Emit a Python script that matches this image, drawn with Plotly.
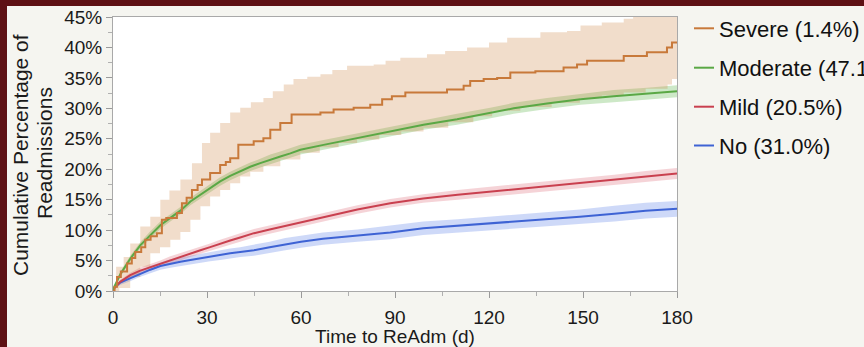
import plotly.graph_objects as go

# ---------------- data ----------------
x_ticks = [0, 30, 60, 90, 120, 150, 180]
y_ticks = [0, 5, 10, 15, 20, 25, 30, 35, 40, 45]

legend_labels = ["Severe (1.4%)", "Moderate (47.1%)", "Mild (20.5%)", "No (31.0%)"]
y_title_lines = ["Cumulative Percentage of", "Readmissions"]
x_title = "Time to ReAdm (d)"

sev_days = [0, 0.5, 1.3, 2.5, 4.5, 6, 7.1, 9, 10.3, 12, 14, 15.6, 17, 20.4, 22, 23.5, 25.2, 27, 28.4, 31,
            34.2, 36, 37.4, 40, 44.9, 48, 50.2, 53.4, 57, 66.2, 70.4, 76.8, 82.1, 85.9, 89, 93.3, 106.6,
            111.9, 114, 118.3, 122.6, 126.8, 134.8, 143.8, 148.1, 151.3, 163, 170.4, 176.8, 178.4, 180]
sev_vals = [0, 0.7, 2.3, 3.2, 4.5, 5.4, 6.4, 7.2, 8.4, 9.0, 9.5, 11.7, 12.0, 12.8, 14.4, 15.3, 16.6, 17.4,
            18.3, 19.4, 20.7, 21.2, 21.8, 24.0, 24.6, 25.1, 26.5, 27.6, 29.0, 29.3, 29.8, 30.1, 30.6, 31.5,
            32.0, 32.6, 33.1, 33.7, 34.5, 34.8, 35.0, 35.9, 36.1, 36.7, 37.2, 37.8, 38.6, 39.2, 40.0, 40.8, 40.8]

sev_up_days = [0, 1, 3.4, 5.5, 8.7, 11.9, 15.1, 18, 21.5, 25.2, 28.4, 31, 34.2, 37.4, 40.6, 44, 48, 51, 54.5,
               57.6, 62, 66.2, 70, 74.7, 83.2, 87, 91.7, 100.2, 106, 113, 120, 125.8, 136.4, 144.9, 149.2,
               156, 163, 166, 180]
sev_upper = [0.5, 4.0, 5.6, 7.8, 10.6, 12.2, 15.0, 16.5, 18.3, 21.0, 24.3, 26.0, 27.6, 29.3, 30.1, 31.0, 31.7,
             32.8, 33.9, 34.8, 35.2, 35.6, 36.3, 37.0, 37.2, 37.8, 38.3, 38.9, 39.4, 40.0, 40.8, 41.6, 42.5,
             42.7, 43.6, 44.1, 44.7, 45.3, 45.8]

sev_lo_days = [0, 2, 5.5, 8.7, 11.9, 15, 18.3, 21.5, 24.7, 27.9, 31, 34.2, 37.4, 40.6, 43.8, 48, 53.4, 59.8,
               66, 72, 77.9, 85, 92, 99.1, 107, 115, 121, 130, 140, 149, 156, 163, 170, 177, 178.4, 180]
sev_lower = [0, 0.5, 2.3, 4.0, 6.2, 7.2, 8.4, 9.7, 11.7, 13.9, 15.5, 16.6, 17.7, 18.8, 19.6, 20.5, 21.6, 22.7,
             23.6, 24.3, 24.9, 25.6, 26.2, 26.8, 27.7, 28.7, 29.6, 30.2, 30.9, 31.7, 32.1, 32.6, 33.2, 33.9,
             34.8, 34.8]

mod_days = [0, 0.4, 2.3, 5.5, 8.7, 11.9, 15.1, 18.3, 21.5, 24.7, 27.9, 31, 34.2, 37.4, 40.6, 43.8, 47, 50.2,
            53.4, 56.6, 59.8, 67.2, 77.9, 88.5, 99.1, 109.8, 120.4, 127.9, 138.5, 149.2, 159.8, 170.4, 180]
mod_vals = [0, 0.7, 2.7, 5.3, 7.5, 9.2, 10.8, 12.0, 13.2, 14.7, 15.8, 16.9, 18.0, 18.9, 19.7, 20.4, 21.0, 21.6,
            22.1, 22.6, 23.2, 24.0, 25.1, 26.2, 27.3, 28.2, 29.2, 30.0, 30.8, 31.5, 32.0, 32.4, 32.8]
mod_lower = [0, 0.5, 2.3, 4.8, 7.0, 8.6, 10.2, 11.4, 12.6, 14.1, 15.2, 16.2, 17.3, 18.2, 19.0, 19.7, 20.3, 20.8,
             21.3, 21.8, 22.4, 23.2, 24.3, 25.4, 26.5, 27.3, 28.3, 29.1, 29.9, 30.6, 31.0, 31.4, 31.8]
mod_upper = [0, 0.9, 3.1, 5.8, 8.0, 9.8, 11.4, 12.6, 13.8, 15.3, 16.4, 17.6, 18.7, 19.6, 20.4, 21.1, 21.7, 22.4,
             22.9, 23.4, 24.0, 24.8, 25.9, 27.0, 28.1, 29.1, 30.1, 30.9, 31.7, 32.4, 33.0, 33.4, 33.8]

mn_days = [0, 0.4, 2.3, 5.5, 8.5, 11.9, 15.1, 18.3, 21.5, 24.7, 27.9, 31, 34.2, 37.4, 40.6, 45, 50, 55, 60, 67,
           78, 88.5, 99, 110, 120, 128, 138.5, 149, 160, 170, 180]
mild_vals = [0, 0.5, 1.5, 2.6, 3.3, 3.9, 4.5, 5.1, 5.6, 6.2, 6.7, 7.2, 7.8, 8.3, 8.8, 9.5, 10.1, 10.7, 11.3, 12.2,
             13.4, 14.4, 15.2, 15.8, 16.3, 16.7, 17.2, 17.7, 18.3, 18.8, 19.3]
mild_lower = [0, 0.3, 1.2, 2.2, 2.8, 3.4, 4.0, 4.5, 5.0, 5.6, 6.1, 6.6, 7.2, 7.6, 8.1, 8.8, 9.4, 10.0, 10.6, 11.5,
              12.7, 13.7, 14.5, 15.0, 15.5, 15.9, 16.4, 16.9, 17.5, 17.9, 18.4]
mild_upper = [0, 0.7, 1.8, 3.0, 3.8, 4.4, 5.0, 5.7, 6.2, 6.8, 7.3, 7.8, 8.4, 9.0, 9.5, 10.2, 10.8, 11.4, 12.0, 12.9,
              14.1, 15.1, 15.9, 16.6, 17.1, 17.5, 18.0, 18.5, 19.1, 19.7, 20.2]

no_vals = [0, 0.5, 1.4, 2.1, 2.8, 3.5, 4.1, 4.5, 4.8, 5.1, 5.4, 5.7, 5.9, 6.2, 6.4, 6.7, 7.2, 7.7, 8.1, 8.6,
           9.1, 9.6, 10.3, 10.7, 11.1, 11.4, 11.8, 12.2, 12.7, 13.2, 13.5]
no_lower = [0, 0.3, 1.0, 1.6, 2.3, 2.9, 3.5, 3.8, 4.1, 4.4, 4.7, 4.9, 5.1, 5.4, 5.6, 5.8, 6.3, 6.7, 7.1, 7.6,
            8.1, 8.5, 9.2, 9.6, 10.0, 10.2, 10.6, 11.0, 11.4, 11.9, 12.2]
no_upper = [0, 0.7, 1.8, 2.6, 3.3, 4.1, 4.7, 5.2, 5.5, 5.8, 6.1, 6.5, 6.7, 7.0, 7.2, 7.6, 8.1, 8.7, 9.1, 9.6,
            10.1, 10.7, 11.4, 11.8, 12.2, 12.6, 13.0, 13.4, 14.0, 14.5, 14.8]

# ---------------- styling ----------------
FONT = "Liberation Sans, Arial, Helvetica, sans-serif"
C_SEV, F_SEV = "#c8793a", "rgba(204,128,64,0.27)"
C_MOD, F_MOD = "#5aa845", "rgba(100,185,80,0.32)"
C_MILD, F_MILD = "#c9404f", "rgba(215,85,100,0.26)"
C_NO, F_NO = "#3e63d4", "rgba(80,120,230,0.28)"
TXT = "#1a1a1a"

W, H = 864, 347
ML, MR, MT, MB = 113, 187, 17, 56
PW, PH = W - ML - MR, H - MT - MB


def px_x(px):
    return (px - ML) / PW


def px_y(py):
    return (H - MB - py) / PH


fig = go.Figure()


def band(xl, lo, xu, up, fill, shape):
    fig.add_trace(go.Scatter(x=xl, y=lo, mode="lines", line=dict(width=0, shape=shape),
                             showlegend=False, hoverinfo="skip"))
    fig.add_trace(go.Scatter(x=xu, y=up, mode="lines", line=dict(width=0, shape=shape),
                             fill="tonexty", fillcolor=fill, showlegend=False, hoverinfo="skip"))


band(mn_days, no_lower, mn_days, no_upper, F_NO, "linear")
band(mn_days, mild_lower, mn_days, mild_upper, F_MILD, "linear")
band(mod_days, mod_lower, mod_days, mod_upper, F_MOD, "linear")
band(sev_lo_days, sev_lower, sev_up_days, sev_upper, F_SEV, "hv")

series = [
    (mn_days, no_vals, C_NO, "linear", legend_labels[3]),
    (mn_days, mild_vals, C_MILD, "linear", legend_labels[2]),
    (mod_days, mod_vals, C_MOD, "linear", legend_labels[1]),
    (sev_days, sev_vals, C_SEV, "hv", legend_labels[0]),
]
for xs, ys, col, shp, name in series:
    fig.add_trace(go.Scatter(x=xs, y=ys, mode="lines", name=name,
                             line=dict(color=col, width=2, shape=shp), showlegend=False))

# manual legend (short line samples like the reference)
leg_colors = [C_SEV, C_MOD, C_MILD, C_NO]
leg_py = [28.3, 67.7, 106.7, 145.5]
shapes = []
annotations = []
for lab, col, py in zip(legend_labels, leg_colors, leg_py):
    shapes.append(dict(type="line", xref="paper", yref="paper", x0=px_x(694), x1=px_x(714),
                       y0=px_y(py), y1=px_y(py), line=dict(color=col, width=2)))
    annotations.append(dict(xref="paper", yref="paper", x=px_x(717), y=px_y(py + 1), xanchor="left",
                            yanchor="middle", text=lab, showarrow=False,
                            font=dict(family=FONT, size=22, color="#111111")))

# y-axis title as two rotated lines (tighter line spacing like the reference)
for line_txt, cx, cy in zip(y_title_lines, [21, 44], [155, 153]):
    annotations.append(dict(xref="paper", yref="paper", x=px_x(cx), y=px_y(cy), xanchor="center",
                            yanchor="middle", text=line_txt, textangle=-90, showarrow=False,
                            font=dict(family=FONT, size=21, color=TXT)))

# dark red frame strips (left and top)
BORDER = "#5e1114"
shapes.append(dict(type="rect", xref="paper", yref="paper", x0=px_x(0), x1=px_x(7), y0=px_y(H), y1=px_y(0),
                   fillcolor=BORDER, line=dict(width=0), layer="above"))
shapes.append(dict(type="rect", xref="paper", yref="paper", x0=px_x(0), x1=px_x(W), y0=px_y(6), y1=px_y(0),
                   fillcolor=BORDER, line=dict(width=0), layer="above"))

axis_common = dict(showgrid=False, zeroline=False, showline=True, linecolor="#a9a9a9", linewidth=1,
                   mirror=True, ticks="outside", ticklen=6, tickcolor="#9a9a9a",
                   tickfont=dict(family=FONT, size=19, color=TXT))

fig.update_layout(
    width=W, height=H,
    margin=dict(l=ML, r=MR, t=MT, b=MB, autoexpand=False),
    paper_bgcolor="#f5f5f0", plot_bgcolor="#ffffff",
    font=dict(family=FONT, color=TXT),
    showlegend=False,
    shapes=shapes, annotations=annotations,
    xaxis=dict(range=[0, 180], tickvals=x_ticks, ticktext=[str(v) for v in x_ticks],
               minor=dict(dtick=15, ticks="outside", ticklen=4, tickcolor="#b0b0b0"),
               ticklabelstandoff=3,
               title=dict(text=x_title, font=dict(family=FONT, size=19, color=TXT), standoff=2),
               automargin=False, **axis_common),
    yaxis=dict(range=[0, 45], tickvals=y_ticks, ticktext=[f"{v}%" for v in y_ticks],
               minor=dict(dtick=2.5, ticks="outside", ticklen=4, tickcolor="#b0b0b0"),
               automargin=False, **axis_common),
)

fig.write_html("out.html", config={"displayModeBar": False},
               post_script="document.body.style.margin='0';document.body.style.overflow='hidden';")
